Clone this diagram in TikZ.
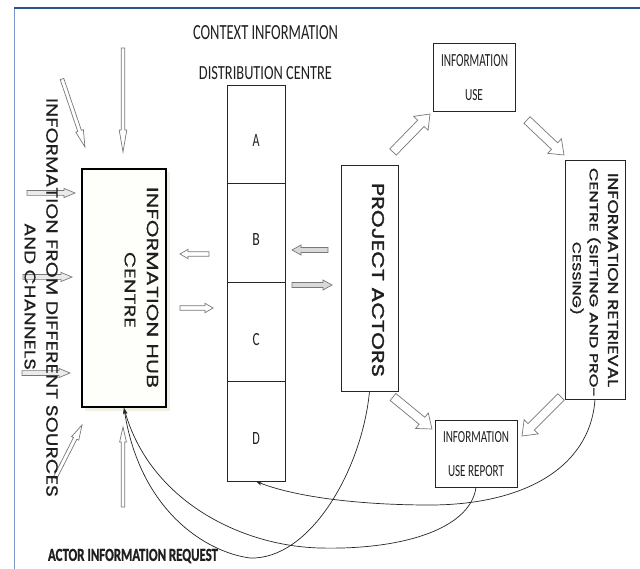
\documentclass[tikz,border=0pt]{standalone}
\usepackage{fontspec}
\setmainfont{Carlito}
\newfontfamily\gothic[FakeBold=0.3]{Poppins}
\newfontfamily\gothicb[FakeBold=1.6]{Poppins}
\usetikzlibrary{calc,arrows.meta}
\definecolor{arrgray}{RGB}{120,120,120}
\definecolor{framebl}{RGB}{47,82,143}
\definecolor{framelt}{RGB}{120,150,200}
\definecolor{hubfill}{RGB}{254,254,250}
\definecolor{hubshadow}{RGB}{242,240,228}
\newcommand\fitt[3]{\resizebox{#1pt}{#2pt}{#3}}
\tikzset{
  box/.style={draw=black!85, line width=0.8pt, inner sep=0pt, fill=white},
  hubbox/.style={draw=black, line width=2.2pt, fill=hubfill, inner sep=0pt},
  harrow/.style={draw=arrgray, line width=0.7pt, line join=miter},
  txt/.style={inner sep=0pt, outer sep=0pt, text=black!88},
  curve/.style={draw=black!85, line width=0.7pt},
  tip/.style={-{Stealth[length=6pt,width=4pt]}}
}
% [fill]{tail}{tip}{shaft half width}{head half width}{head length}
\newcommand\blockarrow[6][white]{%
  \filldraw[harrow, fill=#1] let \p1=(#2), \p2=(#3),
    \n1={atan2(\y2-\y1,\x2-\x1)}, \n2={veclen(\x2-\x1,\y2-\y1)} in
   ($(\p1)+({\n1+90}:#4pt)$) --
   ($(\p1)+(\n1:{\n2-#6pt})+({\n1+90}:#4pt)$) --
   ($(\p1)+(\n1:{\n2-#6pt})+({\n1+90}:#5pt)$) --
   (\p2) --
   ($(\p1)+(\n1:{\n2-#6pt})+({\n1-90}:#5pt)$) --
   ($(\p1)+(\n1:{\n2-#6pt})+({\n1-90}:#4pt)$) --
   ($(\p1)+({\n1-90}:#4pt)$) -- cycle;}
\begin{document}
\begin{tikzpicture}[x=1pt,y=-1pt]
\fill[white] (0,0) rectangle (640,569);
\useasboundingbox (0,0) rectangle (640,569);
% frame
\coordinate (fTL) at (14,8);
\coordinate (fTR) at (640,8);
\coordinate (fBL) at (14,569);
\draw[framelt, line width=1pt] (fTL) -- (fBL);
\draw[framebl, line width=2pt] (fTL) -- (fTR);

% titles
\node[txt] (t1) at (265.5,32.5) {\fitt{145}{14}{CONTEXT INFORMATION}};
\node[txt] (t2) at (265.5,73.5) {\fitt{133}{13}{DISTRIBUTION CENTRE}};

% distribution column
\node[box, minimum width=58pt, minimum height=98pt] (A) at (256,134) {};
\node[box, minimum width=58pt, minimum height=99pt] (B) at (256,232.5) {};
\node[box, minimum width=58pt, minimum height=99pt] (C) at (256,331.5) {};
\node[box, minimum width=58pt, minimum height=100pt] (D) at (256,431) {};
\node[txt] (lA) at (256,141) {\fitt{7}{12}{A}};
\node[txt] (lB) at (256,240) {\fitt{7.5}{12}{B}};
\node[txt] (lC) at (256,340) {\fitt{7}{12}{C}};
\node[txt] (lD) at (256,438) {\fitt{7.5}{12}{D}};

% hub
\fill[hubshadow] (85,172) rectangle (170,411);
\node[hubbox, minimum width=84pt, minimum height=238pt] (hub) at (124,288) {};
\node[txt, rotate=-90] (hub1) at (152.5,287.5) {\fitt{201}{11.5}{\gothic INFORMATION HUB}};
\node[txt, rotate=-90] (hub2) at (130,290) {\fitt{76}{11}{\gothic CENTRE}};

% project actors
\node[box, minimum width=57pt, minimum height=226pt] (pa) at (369.5,278) {};
\node[txt, rotate=-90] (patxt) at (378,280) {\fitt{194}{12}{\gothicb PROJECT ACTORS}};

% information use
\node[box, minimum width=82pt, minimum height=68pt] (iu) at (474,77) {};
\node[txt] (iu1) at (474.5,60.5) {\fitt{67}{12}{INFORMATION}};
\node[txt] (iu2) at (474,95) {\fitt{18}{11}{USE}};

% retrieval centre
\node[box, minimum width=60pt, minimum height=239pt] (ret) at (595,279.5) {};
\node[txt, rotate=-90] (ret1) at (613,280) {\fitt{214}{10}{\gothicb INFORMATION RETRIEVAL}};
\node[txt, rotate=-90] (ret2) at (594,282.5) {\fitt{229}{11}{\gothicb CENTRE (SIFTING AND PRO-}};
\node[txt, rotate=-90] (ret3) at (577,278.5) {\fitt{73}{11}{\gothicb CESSING)}};

% information use report
\node[box, minimum width=82pt, minimum height=67pt] (rep) at (476,453.5) {};
\node[txt] (rep1) at (476,437.5) {\fitt{66}{11}{INFORMATION}};
\node[txt] (rep2) at (476,471.5) {\fitt{56}{11}{USE REPORT}};

% arrows into hub from outside
\coordinate (v1t) at (123,48);  \coordinate (v1h) at (123,152);
\coordinate (d1t) at (62,79);   \coordinate (d1h) at (85,147);
\coordinate (l1t) at (27,193);  \coordinate (l1h) at (75,193);
\coordinate (l2t) at (23,277);  \coordinate (l2h) at (72,277);
\coordinate (l3t) at (22,373);  \coordinate (l3h) at (70,373);
\coordinate (d2t) at (55,478);  \coordinate (d2h) at (82,425);
\coordinate (v2t) at (123,507); \coordinate (v2h) at (123,427);
\blockarrow{v1t}{v1h}{1.8}{3.8}{22}
\blockarrow{d1t}{d1h}{1.9}{4}{17}
\blockarrow[black!8]{l1t}{l1h}{2.4}{4.6}{11}
\blockarrow[black!8]{l2t}{l2h}{2.4}{4.6}{11}
\blockarrow[black!8]{l3t}{l3h}{2.4}{4.6}{11}
\blockarrow{d2t}{d2h}{1.9}{4}{15}
\blockarrow{v2t}{v2h}{1.8}{3.4}{15}

% left label
\node[txt, rotate=-90] (src1) at (52,297.5) {\fitt{399}{11.5}{\gothic INFORMATION FROM DIFFERENT SOURCES}};
\node[txt, rotate=-90] (src2) at (30,296.5) {\fitt{147}{11}{\gothic AND CHANNELS}};

% column <-> hub arrows
\coordinate (c1t) at (209,254); \coordinate (c1h) at (180,254);
\coordinate (c2t) at (180,308); \coordinate (c2h) at (213,308);
\blockarrow{c1t}{c1h}{2.2}{4.7}{8}
\blockarrow{c2t}{c2h}{2.2}{4.7}{8}
% column <-> project actors arrows
\coordinate (b1t) at (328,250); \coordinate (b1h) at (292,250);
\coordinate (b2t) at (292,285); \coordinate (b2h) at (332,285);
\blockarrow[black!15]{b1t}{b1h}{2.5}{5}{9}
\blockarrow[black!15]{b2t}{b2h}{2.5}{5}{9}

% cycle arrows
\coordinate (a1t) at (393,152); \coordinate (a1h) at (430,114);
\coordinate (a2t) at (527,120); \coordinate (a2h) at (564,155);
\coordinate (a3t) at (393,397); \coordinate (a3h) at (432,429);
\coordinate (a4t) at (561,397); \coordinate (a4h) at (522,436);
\blockarrow{a1t}{a1h}{4.5}{10}{13}
\blockarrow{a2t}{a2h}{4.5}{10}{13}
\blockarrow{a3t}{a3h}{4.5}{10}{13}
\blockarrow{a4t}{a4h}{4.5}{10}{13}

% curves
\coordinate (m1) at (250,558);
\coordinate (m2) at (320,548);
\coordinate (m3) at (430,505);
\draw[curve, tip] (pa.south) .. controls (362,470) and (310,560) .. (m1)
   .. controls (205,552) and (140,510) .. (hub.south);
\draw[curve, tip] (rep.south) .. controls (470,530) and (400,550) .. (m2)
   .. controls (240,546) and (150,500) .. (hub.south);
\draw[curve, tip] (ret.south) .. controls (590,470) and (520,505) .. (m3)
   .. controls (350,505) and (290,495) .. (D.south);

% bottom label
\node[txt] (req) at (133,556) {\fitt{170}{12}{\bfseries\addfontfeature{FakeBold=1.2}ACTOR INFORMATION REQUEST}};
\end{tikzpicture}
\end{document}
